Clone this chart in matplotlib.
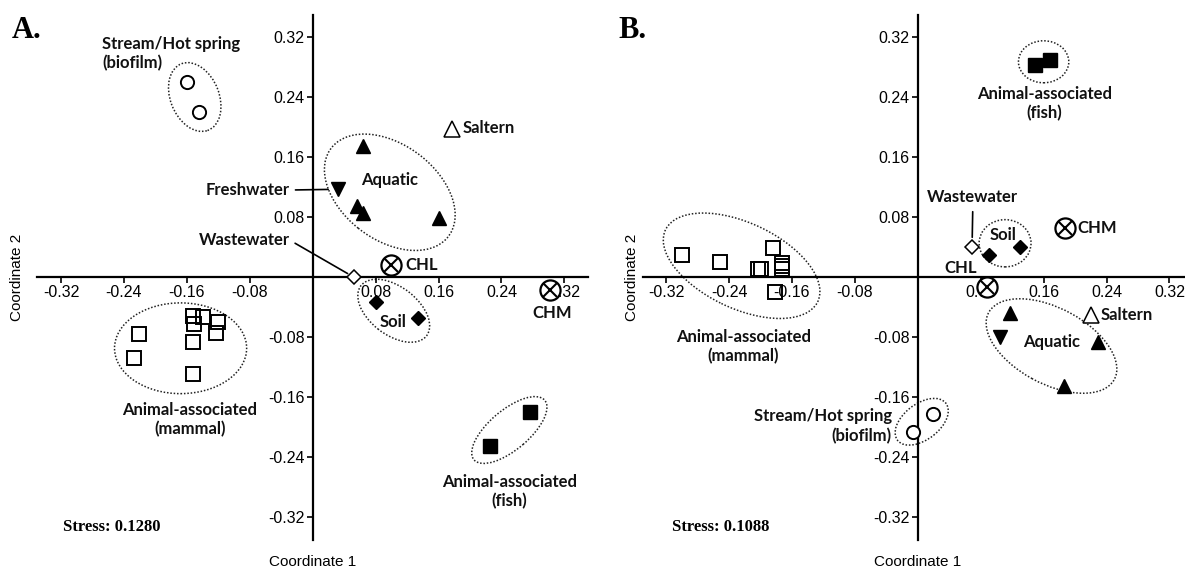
import matplotlib
matplotlib.use("Agg")
import matplotlib.pyplot as plt
from matplotlib.patches import Ellipse

# ---- panel A : NMDS coordinates ----
stream_a_x = [-0.160, -0.144]
stream_a_y = [0.260, 0.220]
mammal_a_x = [-0.152, -0.140, -0.121, -0.151, -0.123, -0.152, -0.221, -0.227, -0.152]
mammal_a_y = [-0.052, -0.053, -0.060, -0.063, -0.075, -0.087, -0.076, -0.108, -0.129]
fish_a_x = [0.276, 0.225]
fish_a_y = [-0.180, -0.225]
aquatic_a_x = [0.064, 0.056, 0.064, 0.160]
aquatic_a_y = [0.175, 0.095, 0.085, 0.079]
fresh_a = [0.032, 0.117]
saltern_a = [0.177, 0.198]
waste_a = [0.052, 0.000]
soil_a_x = [0.081, 0.134]
soil_a_y = [-0.033, -0.055]
chl_a = [0.100, 0.016]
chm_a = [0.302, -0.017]

# ---- panel B ----
stream_b_x = [-0.006, 0.019]
stream_b_y = [-0.207, -0.183]
mammal_b_x = [-0.300, -0.252, -0.203, -0.199, -0.184, -0.173, -0.173, -0.173, -0.182]
mammal_b_y = [0.029, 0.020, 0.011, 0.011, 0.039, 0.019, 0.015, 0.011, -0.020]
fish_b_x = [0.149, 0.168]
fish_b_y = [0.283, 0.289]
aquatic_b_x = [0.117, 0.229, 0.186]
aquatic_b_y = [-0.048, -0.087, -0.145]
fresh_b = [0.104, -0.080]
saltern_b = [0.220, -0.051]
waste_b = [0.069, 0.040]
soil_b_x = [0.091, 0.130]
soil_b_y = [0.029, 0.040]
chl_b = [0.088, -0.013]
chm_b = [0.187, 0.065]

ticks = [-0.32, -0.24, -0.16, -0.08, 0.08, 0.16, 0.24, 0.32]
tick_labels = ["-0.32", "-0.24", "-0.16", "-0.08", "0.08", "0.16", "0.24", "0.32"]
stress = ["Stress: 0.1280", "Stress: 0.1088"]

LIM = 0.35
SANS = "Liberation Sans"
LAB = dict(family="Lato", fontweight="bold", fontsize=12, color="#111111")
DOT = dict(fill=False, edgecolor="#222222", linestyle=(0, (1, 1.2)), linewidth=1.1)

fig = plt.figure(figsize=(11.85, 5.70), dpi=100)
axA = fig.add_axes([0.0316, 0.0535, 0.4646, 0.921])
axB = fig.add_axes([0.5422, 0.0535, 0.4646, 0.921])


def setup(ax):
    ax.set_xlim(-LIM, LIM)
    ax.set_ylim(-LIM, LIM)
    for s in ["top", "right"]:
        ax.spines[s].set_visible(False)
    for s in ["left", "bottom"]:
        ax.spines[s].set_position(("data", 0))
        ax.spines[s].set_linewidth(1.6)
    ax.set_xticks(ticks)
    ax.set_yticks(ticks)
    ax.set_xticklabels(tick_labels, family=SANS, fontsize=11.5)
    ax.set_yticklabels(tick_labels, family=SANS, fontsize=11.5)
    ax.tick_params(direction="out", length=4, width=1.2, pad=2)
    ax.set_facecolor("none")
    ax.text(0.5, -0.043, "Coordinate 1", transform=ax.transAxes, ha="center",
            va="center", family=SANS, fontsize=11)


def circx(ax, p):
    ax.plot(p[0], p[1], "o", ms=14.5, mfc="white", mec="black", mew=1.6, zorder=5)
    ax.plot(p[0], p[1], "x", ms=10, mec="black", mew=1.5, zorder=6)


def points(ax, sx, sy, mx, my, fx, fy, ax_, ay_, fr, sa, wa, sox, soy, chl, chm):
    ax.plot(sx, sy, "o", ms=9.5, mfc="white", mec="black", mew=1.4, ls="none", zorder=4)
    ax.plot(mx, my, "s", ms=10, mfc="none", mec="black", mew=1.4, ls="none", zorder=4)
    ax.plot(fx, fy, "s", ms=10, mfc="black", mec="black", ls="none", zorder=4)
    ax.plot(ax_, ay_, "^", ms=10, mfc="black", mec="black", ls="none", zorder=4)
    ax.plot(fr[0], fr[1], "v", ms=10, mfc="black", mec="black", zorder=4)
    ax.plot(sa[0], sa[1], "^", ms=11, mfc="white", mec="black", mew=1.1, zorder=4)
    ax.plot(wa[0], wa[1], "D", ms=7.5, mfc="white", mec="black", mew=1.1, zorder=4)
    ax.plot(sox, soy, "D", ms=7, mfc="black", mec="black", ls="none", zorder=4)
    circx(ax, chl)
    circx(ax, chm)


# ---------- panel A ----------
setup(axA)
points(axA, stream_a_x, stream_a_y, mammal_a_x, mammal_a_y, fish_a_x, fish_a_y,
       aquatic_a_x, aquatic_a_y, fresh_a, saltern_a, waste_a, soil_a_x, soil_a_y, chl_a, chm_a)
axA.add_patch(Ellipse((-0.150, 0.240), 0.062, 0.095, angle=20, **DOT))
axA.add_patch(Ellipse((0.098, 0.113), 0.190, 0.125, angle=-40, **DOT))
axA.add_patch(Ellipse((0.103, -0.045), 0.107, 0.063, angle=-40, **DOT))
axA.add_patch(Ellipse((0.250, -0.204), 0.120, 0.052, angle=42, **DOT))
axA.add_patch(Ellipse((-0.168, -0.095), 0.168, 0.121, angle=0, **DOT))

axA.text(-0.268, 0.298, "Stream/Hot spring\n(biofilm)", ha="left", va="center",
         multialignment="left", linespacing=1.25, **LAB)
axA.text(0.098, 0.129, "Aquatic", ha="center", va="center", **LAB)
axA.text(0.191, 0.199, "Saltern", ha="left", va="center", **LAB)
axA.annotate("Freshwater", xy=fresh_a, xytext=(-0.029, 0.116), ha="right", va="center",
             arrowprops=dict(arrowstyle="-", color="black", lw=1.2, shrinkA=2, shrinkB=7,
                             relpos=(1, 0.5)), **LAB)
axA.annotate("Wastewater", xy=waste_a, xytext=(-0.029, 0.049), ha="right", va="center",
             arrowprops=dict(arrowstyle="-", color="black", lw=1.2, shrinkA=2, shrinkB=5,
                             relpos=(1, 0.5)), **LAB)
axA.text(0.118, 0.016, "CHL", ha="left", va="center", **LAB)
axA.text(0.102, -0.060, "Soil", ha="center", va="center", **LAB)
axA.text(0.304, -0.048, "CHM", ha="center", va="center", **LAB)
axA.text(0.250, -0.286, "Animal-associated\n(fish)", ha="center", va="center",
         linespacing=1.25, **LAB)
axA.text(-0.156, -0.190, "Animal-associated\n(mammal)", ha="center", va="center",
         linespacing=1.25, **LAB)
axA.text(-0.037, 0.5, "Coordinate 2", transform=axA.transAxes, rotation=90,
         ha="center", va="center", family=SANS, fontsize=11)

# ---------- panel B ----------
setup(axB)
points(axB, stream_b_x, stream_b_y, mammal_b_x, mammal_b_y, fish_b_x, fish_b_y,
       aquatic_b_x, aquatic_b_y, fresh_b, saltern_b, waste_b, soil_b_x, soil_b_y, chl_b, chm_b)
axB.add_patch(Ellipse((0.160, 0.287), 0.064, 0.056, angle=0, **DOT))
axB.add_patch(Ellipse((0.111, 0.045), 0.066, 0.063, angle=0, **DOT))
axB.add_patch(Ellipse((-0.224, 0.015), 0.216, 0.113, angle=-27, **DOT))
axB.add_patch(Ellipse((0.005, -0.193), 0.079, 0.047, angle=40, **DOT))
axB.add_patch(Ellipse((0.170, -0.092), 0.183, 0.100, angle=-30, **DOT))

axB.text(0.161, 0.231, "Animal-associated\n(fish)", ha="center", va="center",
         linespacing=1.25, **LAB)
axB.annotate("Wastewater", xy=waste_b, xytext=(0.070, 0.107), ha="center", va="center",
             arrowprops=dict(arrowstyle="-", color="black", lw=1.2, shrinkA=3, shrinkB=7,
                             relpos=(0.5, 0)), **LAB)
axB.text(0.108, 0.056, "Soil", ha="center", va="center", **LAB)
axB.text(0.203, 0.065, "CHM", ha="left", va="center", **LAB)
axB.text(0.075, 0.012, "CHL", ha="right", va="center", **LAB)
axB.text(-0.222, -0.093, "Animal-associated\n(mammal)", ha="center", va="center",
         linespacing=1.25, **LAB)
axB.text(-0.033, -0.199, "Stream/Hot spring\n(biofilm)", ha="right", va="center",
         multialignment="right", linespacing=1.25, **LAB)
axB.text(0.170, -0.087, "Aquatic", ha="center", va="center", **LAB)
axB.text(0.233, -0.051, "Saltern", ha="left", va="center", **LAB)
axB.text(-0.019, 0.5, "Coordinate 2", transform=axB.transAxes, rotation=90,
         ha="center", va="center", family=SANS, fontsize=11)

# panel letters and stress values
fig.text(0.010, 0.947, "A.", family="Liberation Serif", fontweight="bold", fontsize=22,
         ha="left", va="center")
fig.text(0.522, 0.947, "B.", family="Liberation Serif", fontweight="bold", fontsize=22,
         ha="left", va="center")
fig.text(0.053, 0.075, stress[0], family="Liberation Serif", fontweight="bold",
         fontsize=12, ha="left", va="center")
fig.text(0.567, 0.075, stress[1], family="Liberation Serif", fontweight="bold",
         fontsize=12, ha="left", va="center")

fig.savefig("out.png", dpi=100, facecolor="white")
